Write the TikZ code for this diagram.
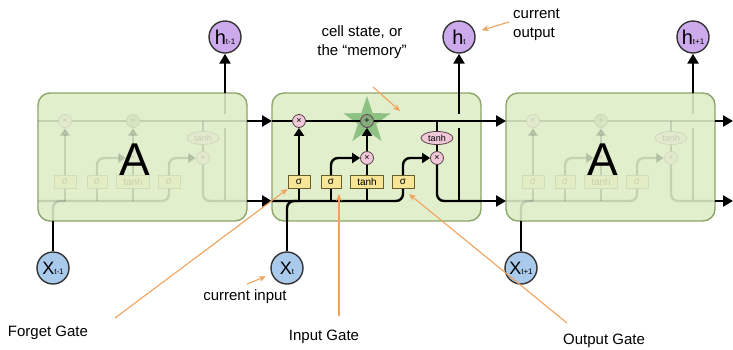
\documentclass[tikz,border=0pt]{standalone}
\usepackage{fontspec}
\setmainfont{Liberation Sans}
\usetikzlibrary{arrows.meta,shapes.geometric}

\definecolor{cellfill}{RGB}{225,239,204}
\definecolor{celldraw}{RGB}{140,165,105}
\definecolor{gatefill}{RGB}{246,230,150}
\definecolor{gatedraw}{RGB}{105,95,45}
\definecolor{opfill}{RGB}{240,200,216}
\definecolor{opdraw}{RGB}{90,65,75}
\definecolor{hfill}{RGB}{205,170,236}
\definecolor{xfill}{RGB}{170,202,236}
\definecolor{starcol}{RGB}{85,165,85}
\definecolor{plusfill}{RGB}{135,170,125}
\definecolor{notecol}{RGB}{240,162,92}

% state circle label: main letter plus a small index
\newcommand\statelab[3]{{\fontsize{#1}{#1}\selectfont #2}{\fontsize{8}{8}\selectfont #3}}

\tikzset{
  flow/.style={line width=2.4pt, draw=black},
  arr/.style={flow, -{Triangle[length=10pt,width=11pt]}},
  sarr/.style={flow, -{Triangle[length=8pt,width=10pt]}},
  cellbox/.style={draw=celldraw, fill=cellfill, line width=1.4pt, rounded corners=12pt,
    minimum width=209pt, minimum height=128pt, inner sep=0},
  gate/.style={draw=gatedraw, fill=gatefill, line width=0.9pt, minimum height=13pt,
    inner sep=0, font=\fontsize{10}{10}\selectfont},
  op/.style={circle, draw=opdraw, fill=opfill, line width=0.8pt, minimum size=13pt,
    inner sep=0, font=\fontsize{9}{9}\selectfont},
  squash/.style={ellipse, draw=opdraw, fill=opfill, line width=0.8pt, minimum width=32pt,
    minimum height=13pt, inner sep=0, font=\fontsize{9}{9}\selectfont},
  state/.style={circle, draw=black!80, line width=1.4pt, minimum size=32pt, inner sep=0},
  hnode/.style={state, fill=hfill},
  xnode/.style={state, fill=xfill},
  lbl/.style={font=\fontsize{15}{19}\selectfont, inner sep=0},
  bigA/.style={font=\fontsize{46}{46}\selectfont, inner sep=0},
  notearr/.style={draw=notecol, line width=1.1pt, -{Stealth[length=7pt,width=6pt]}},
  % one LSTM cell; #1 = opacity of its inner parts, #2 = opacity of the star (0: none)
  pics/lstm/.style n args={2}{code={
    \node[cellbox] (-box) at (104.5,64) {};
    \coordinate (-cin) at (0,28);
    \coordinate (-cout) at (209,28);
    \coordinate (-hin) at (0,108);
    \coordinate (-hout) at (209,108);
    \coordinate (-xin) at (15,128);
    \coordinate (-htop) at (187,0);
    \coordinate (-hgapa) at (187,21);
    \coordinate (-hgapb) at (187,35);
    \coordinate (-hbot) at (187,107);
    \coordinate (-j1) at (27,108);
    \coordinate (-j2) at (59,108);
    \coordinate (-j3) at (95,108);
    \coordinate (-tb) at (165,28);
    \ifdim #2pt>0.05pt
      \node[star, star points=5, star point ratio=2.6, minimum size=50pt, inner sep=0,
        fill=starcol, fill opacity=#2] (-star) at (95,28) {};
    \fi
    \begin{scope}[opacity=#1]
      \node[op] (-fx) at (27,28) {×};
      \node[op, fill=plusfill] (-plus) at (95,28) {+};
      \node[gate, minimum width=22pt] (-s1) at (27,89) {σ};
      \node[gate, minimum width=20pt] (-s2) at (59,89) {σ};
      \node[gate, minimum width=33pt] (-th) at (95,89) {tanh};
      \node[gate, minimum width=22pt] (-s3) at (131,89) {σ};
      \node[op] (-ix) at (95,65) {×};
      \node[op] (-ox) at (165,65) {×};
      \node[squash] (-tanhc) at (165,45) {tanh};
      % cell state and the concatenated input line
      \draw[flow] (-cin) -- (-fx) -- (-plus) -- (-cout);
      \draw[flow, rounded corners=7pt] (-hin) -| (-s3.south);
      \draw[flow, rounded corners=7pt] (-xin) |- (-j1);
      \draw[flow] (-j1) -- (-s1);
      \draw[flow] (-j2) -- (-s2);
      \draw[flow] (-j3) -- (-th);
      % gate outputs
      \draw[sarr] (-s1) -- (-fx);
      \draw[sarr, rounded corners=7pt] (-s2.north) |- (-ix.west);
      \draw[flow] (-th) -- (-ix);
      \draw[sarr] (-ix) -- (-plus);
      \draw[sarr, rounded corners=7pt] (-s3.north) |- (-ox.west);
      \draw[flow] (-tb) -- (-tanhc);
      \draw[flow] (-tanhc) -- (-ox);
      \draw[flow, rounded corners=7pt] (-ox.south) |- (-hout);
      % hidden state going up, crossing the cell state line
      \draw[flow] (-htop) -- (-hgapa);
      \draw[flow] (-hgapb) -- (-hbot);
    \end{scope}
  }},
}

\begin{document}
\begin{tikzpicture}[x=1pt, y=-1pt]
  \useasboundingbox (0,0) rectangle (733,349);

  % the three unrolled cells
  \pic (L) at (38,93) {lstm={0.12}{0}};
  \pic (M) at (272,93) {lstm={1}{0.6}};
  \pic (R) at (506,93) {lstm={0.12}{0}};
  \node[bigA] (AL) at (134.5,160) {A};
  \node[bigA] (AR) at (602.5,160) {A};

  % outputs and inputs
  \node[hnode] (hL) at (225,37) {\statelab{20}{h}{t-1}};
  \node[hnode] (hM) at (459,37) {\statelab{20}{h}{t}};
  \node[hnode] (hR) at (693,37) {\statelab{20}{h}{t+1}};
  \node[xnode] (xL) at (53,268) {\statelab{18}{X}{t-1}};
  \node[xnode] (xM) at (287,268) {\statelab{18}{X}{t}};
  \node[xnode] (xR) at (521,268) {\statelab{18}{X}{t+1}};

  \draw[arr] (L-htop) -- (hL);
  \draw[arr] (M-htop) -- (hM);
  \draw[arr] (R-htop) -- (hR);
  \draw[flow] (xL) -- (L-xin);
  \draw[flow] (xM) -- (M-xin);
  \draw[flow] (xR) -- (R-xin);

  % state passed between cells
  \coordinate (cend) at (733,121);
  \coordinate (hend) at (733,201);
  \draw[arr] (L-cout) -- (M-cin);
  \draw[arr] (L-hout) -- (M-hin);
  \draw[arr] (M-cout) -- (R-cin);
  \draw[arr] (M-hout) -- (R-hin);
  \draw[arr] (R-cout) -- (cend);
  \draw[arr] (R-hout) -- (hend);

  % annotations
  \node[lbl, align=center] (celllbl) at (362,42.5) {cell state, or\\the “memory”};
  \node[lbl, align=left, anchor=west] (curout) at (513,25) {current\\output};
  \node[lbl] (curin) at (245,297) {current input};
  \node[lbl] (forgetlbl) at (48,333) {Forget Gate};
  \node[lbl] (inputlbl) at (324,337) {Input Gate};
  \node[lbl] (outputlbl) at (604,341) {Output Gate};

  \coordinate (cellfrom) at (373,87);
  \coordinate (cellto) at (400,111);
  \coordinate (outfrom) at (509,22);
  \coordinate (infrom) at (247,284);
  \coordinate (forgetfrom) at (115,318);
  \coordinate (inputfrom) at (339,316);
  \coordinate (inputto) at (339,194);
  \coordinate (outputfrom) at (567,323);
  \coordinate (outputto) at (409,194);

  \draw[notearr] (cellfrom) -- (cellto);
  \draw[notearr, shorten >=7pt] (outfrom) -- (hM);
  \draw[notearr, shorten >=6pt] (infrom) -- (xM);
  \draw[notearr] (forgetfrom) -- (M-s1.south west);
  \draw[notearr] (inputfrom) -- (inputto);
  \draw[notearr] (outputfrom) -- (outputto);
\end{tikzpicture}
\end{document}
